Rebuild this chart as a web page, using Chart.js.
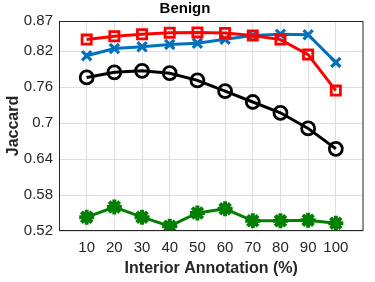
<!DOCTYPE html>
<html>
<head>
<meta charset="utf-8">
<script src="https://cdn.jsdelivr.net/npm/chart.js@4"></script>
<style>
  html, body { margin: 0; padding: 0; background: #fff; }
  #wrap { width: 375px; height: 282px; }
</style>
</head>
<body>
<div id="wrap"><canvas id="myChart"></canvas></div>
<script>
var xValues = [10, 20, 30, 40, 50, 60, 70, 80, 90, 100];
var yTicks = [0.52, 0.58, 0.64, 0.7, 0.76, 0.82, 0.87];
var redSquares = [0.839, 0.8445, 0.848, 0.8505, 0.851, 0.850, 0.846, 0.839, 0.814, 0.754];
var blueCrosses = [0.812, 0.824, 0.827, 0.831, 0.833, 0.8395, 0.846, 0.848, 0.847, 0.801];
var blackCircles = [0.776, 0.7845, 0.787, 0.783, 0.771, 0.753, 0.735, 0.717, 0.691, 0.657];
var greenStars = [0.543, 0.560, 0.543, 0.528, 0.550, 0.557, 0.537, 0.537, 0.538, 0.533];

function pts(vals) {
  return vals.map(function (v, i) { return {x: xValues[i], y: v}; });
}

var boxPlugin = {
  id: 'box',
  afterDatasetsDraw: function (chart) {
    var a = chart.chartArea, c = chart.ctx;
    c.save();
    c.strokeStyle = '#262626';
    c.lineWidth = 1;
    c.strokeRect(a.left + 0.5, a.top + 0.5, a.right - a.left - 1, a.bottom - a.top - 1);
    c.restore();
  }
};

Chart.defaults.font.family = '"Liberation Sans", Arial, sans-serif';
Chart.defaults.color = '#262626';

var ctx = document.getElementById('myChart').getContext('2d');
var myChart = new Chart(ctx, {
  type: 'line',
  data: {
    datasets: [{
        data: pts(blackCircles),
        borderColor: '#000000',
        backgroundColor: 'rgba(0,0,0,0)',
        pointStyle: 'circle',
        pointRadius: 6.5,
        pointBorderWidth: 2.8,
        borderWidth: 3
      }, {
        data: pts(redSquares),
        borderColor: '#ff0000',
        backgroundColor: 'rgba(0,0,0,0)',
        pointStyle: 'rect',
        pointRadius: 6.5,
        pointBorderWidth: 2.8,
        borderWidth: 3
      }, {
        data: pts(blueCrosses),
        borderColor: '#0072bd',
        backgroundColor: 'rgba(0,0,0,0)',
        pointStyle: 'crossRot',
        pointRadius: 6.5,
        pointBorderWidth: 3.2,
        borderWidth: 3
      }, {
        data: pts(greenStars),
        borderColor: '#007f00',
        backgroundColor: '#007f00',
        pointStyle: 'star',
        pointRadius: 7.5,
        pointBorderWidth: 4,
        borderWidth: 3
      }
    ]
  },
  options: {
    responsive: true,
    maintainAspectRatio: false,
    animation: false,
    layout: { padding: { top: 0, right: 5, left: 0, bottom: 0 } },
    plugins: {
      legend: { display: false },
      tooltip: { enabled: false },
      title: {
        display: true,
        text: 'Benign',
        color: '#000',
        font: { size: 15, weight: 'bold' },
        padding: { top: 0, bottom: 3 }
      }
    },
    scales: {
      x: {
        type: 'linear',
        min: 0,
        max: 110,
        afterBuildTicks: function (s) { s.ticks = xValues.map(function (v) { return {value: v}; }); },
        ticks: { font: { size: 15 }, padding: 8, maxRotation: 0 },
        grid: { color: '#dfdfdf', drawTicks: false },
        border: { display: false },
        title: {
          display: true,
          text: 'Interior Annotation (%)',
          color: '#262626',
          font: { size: 16, weight: 'bold' },
          padding: { top: 4 }
        },
        afterFit: function (s) { s.height = 51; }
      },
      y: {
        min: 0.52,
        max: 0.87,
        afterBuildTicks: function (s) { s.ticks = yTicks.map(function (v) { return {value: v}; }); },
        ticks: { font: { size: 15 }, padding: 6, callback: function (v) { return String(v); } },
        grid: { color: '#dfdfdf', drawTicks: false },
        border: { display: false },
        title: {
          display: true,
          text: 'Jaccard',
          color: '#262626',
          font: { size: 16, weight: 'bold' },
          padding: { top: 4, bottom: 0 }
        },
        afterFit: function (s) { s.width = 59; }
      }
    }
  },
  plugins: [boxPlugin]
});
</script>
</body>
</html>
